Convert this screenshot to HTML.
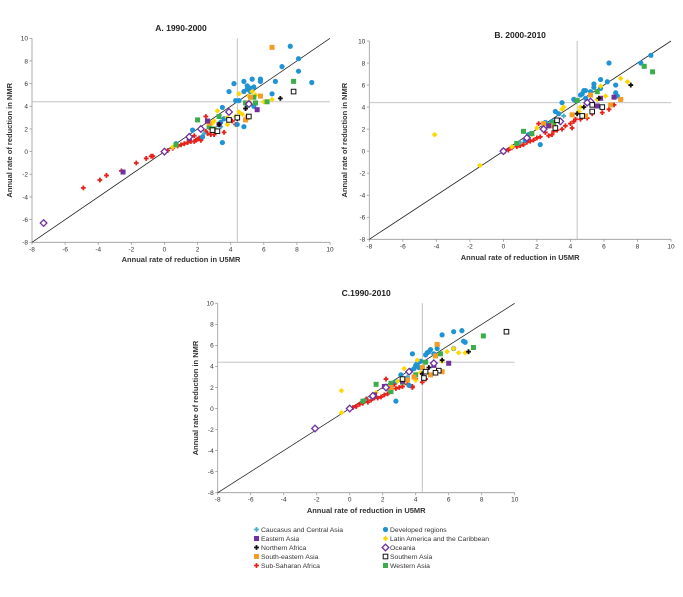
<!DOCTYPE html>
<html><head><meta charset="utf-8">
<style>
body{margin:0;background:#fff;font-family:"Liberation Sans",Arial,sans-serif}
svg{display:block}
text{font-family:"Liberation Sans",Arial,sans-serif}
</style></head>
<body>
<svg id="chart" width="683" height="597" viewBox="0 0 683 597" xmlns="http://www.w3.org/2000/svg"></svg>
<script>
const xTicks=[-8,-6,-4,-2,0,2,4,6,8,10];
const yTicks=[-8,-6,-4,-2,0,2,4,6,8,10];
const refX=4.4, refY=4.4;
const regionNames=["Caucasus and Central Asia","Developed regions","Eastern Asia","Latin America and the Caribbean","Northern Africa","Oceania","South-eastern Asia","Southern Asia","Sub-Saharan Africa","Western Asia"];
const panelTitles=["A. 1990-2000","B. 2000-2010","C.1990-2010"];

// Panel A data
const aCaucasus=[[1.5,1.4],[2.4,1.6],[3.4,2.2],[0.7,0.7]];
const aDeveloped=[[7.6,9.3],[8.1,8.2],[7.1,7.5],[8.1,7.1],[8.9,6.1],[6.7,6.2],[5.8,6.4],[5.3,6.4],[4.8,6.2],[4.2,6.0],[5.0,5.8],[5.2,5.6],[5.4,5.7],[3.9,5.3],[4.8,5.3],[5.0,5.5],[5.2,5.3],[6.5,5.1],[4.3,4.5],[4.5,4.5],[5.4,4.0],[3.5,3.9],[3.6,2.9],[4.4,2.4],[4.8,2.2],[3.5,0.8],[1.7,1.9],[0.7,0.7],[2.3,1.3],[3.4,2.6],[5.8,6.2]];
const aEastAsia=[[5.6,3.7],[2.6,2.7],[-2.5,-1.8],[1.5,1.2],[3.3,2.4]];
const aLatin=[[4.5,5.1],[5.3,5.3],[6.0,4.4],[6.5,4.6],[5.1,4.9],[3.2,3.6],[3.8,3.0],[4.7,3.3],[4.5,3.5],[2.9,2.5],[3.0,2.7],[3.8,2.4],[2.7,2.2],[0.5,0.4],[4.3,3.1],[5.5,5.0]];
const aNAfrica=[[7.0,4.7],[4.9,3.8],[4.4,2.9],[3.3,2.4]];
const aOceania=[[-7.3,-6.3],[3.9,3.5],[2.2,2.0],[0,0],[1.5,1.3],[5.1,4.2]];
const aSEAsia=[[6.5,9.2],[5.2,4.8],[5.8,4.9],[4.9,2.8],[3.9,2.8],[5.0,3.0],[2.7,2.5],[5.1,4.3]];
const aSAsia=[[7.8,5.3],[5.1,3.1],[3.9,2.8],[3.2,1.8],[2.9,1.9],[4.4,3.0]];
const aSSA=[[-4.9,-3.2],[-3.9,-2.5],[-3.5,-2.1],[-2.6,-1.7],[-1.7,-1.0],[-1.1,-0.6],[-0.8,-0.4],[-0.7,-0.4],[0,0],[0.2,0.1],[0.5,0.3],[0.8,0.5],[1.0,0.6],[1.2,0.7],[1.4,0.8],[1.6,0.9],[1.8,0.9],[1.9,1.0],[2.0,1.1],[2.1,1.2],[2.2,1.0],[2.5,3.1],[2.3,1.3],[2.6,1.6],[2.8,1.5],[3.0,1.5],[2.8,2.0],[3.6,1.7],[4.1,2.7],[4.3,2.4],[1.8,1.4],[2.5,1.8]];
const aWAsia=[[7.8,6.2],[6.2,4.4],[5.4,4.8],[4.9,4.3],[5.0,4.1],[2.0,2.8],[3.3,3.1],[2.7,2.2],[0.7,0.6],[3.0,2.0],[5.5,4.3]];

// Panel B data
const bCaucasus=[[1.5,1.2],[2.3,2.0],[3.6,3.2],[1.0,0.8]];
const bDeveloped=[[8.8,8.7],[8.2,8.0],[6.3,8.0],[5.8,6.5],[5.4,6.1],[6.2,6.3],[5.4,5.8],[4.8,5.5],[4.7,5.2],[4.6,5.1],[5.2,5.4],[6.7,6.0],[6.7,5.3],[6.8,5.0],[5.8,5.7],[3.5,4.4],[4.2,4.7],[4.3,4.6],[4.9,4.8],[3.1,3.6],[3.3,3.4],[2.5,2.6],[2.9,2.7],[1.5,1.5],[2.2,0.6],[1.3,1.0],[4.9,5.5]];
const bEastAsia=[[6.6,4.9],[5.6,4.1],[5.8,4.8],[2.7,2.3],[0,0]];
const bLatin=[[-4.1,1.5],[-1.4,-1.3],[7.0,6.6],[7.4,6.3],[6.1,5.0],[5.8,5.9],[5.6,4.7],[4.6,4.0],[3.6,4.0],[3.5,3.8],[3.3,2.8],[2.0,2.1],[0.5,0.4],[1.7,1.5],[4.5,3.6]];
const bNAfrica=[[7.6,6.0],[5.7,4.8],[4.8,4.0],[4.4,3.4]];
const bOceania=[[5.2,4.5],[5.0,4.4],[3.4,2.7],[2.4,2.0],[1.4,1.2],[0,0]];
const bSEAsia=[[5.2,5.1],[6.4,4.2],[7.0,4.7],[4.1,3.3],[2.4,2.5],[3.2,2.8],[4.9,3.2],[2.8,2.3]];
const bSAsia=[[5.9,4.0],[5.3,4.2],[5.3,3.6],[4.7,3.2],[3.2,2.8],[3.1,2.1]];
const bSSA=[[0,0],[0.3,0.1],[0.5,0.3],[0.8,0.4],[1.0,0.5],[1.2,0.6],[1.4,0.8],[1.6,0.9],[1.8,1.0],[2.0,1.2],[2.1,2.5],[2.2,1.3],[2.5,1.7],[2.7,1.4],[2.9,1.5],[3.0,1.8],[3.2,1.9],[3.5,2.0],[3.7,2.3],[4.0,2.5],[4.1,2.1],[4.3,2.9],[4.6,2.9],[5.0,3.0],[5.3,3.4],[5.9,3.5],[6.3,3.8],[6.6,4.2],[7.0,4.7],[4.2,2.7],[3.1,2.2],[2.4,2.0]];
const bWAsia=[[8.4,7.7],[8.9,7.2],[5.6,5.4],[1.2,1.8],[1.7,1.6],[2.8,2.4],[3.0,2.6],[4.4,4.6],[0.8,0.7]];

// Panel C data
const cCaucasus=[[1.3,1.1],[2.3,1.9],[3.5,3.0],[0.9,0.8]];
const cDeveloped=[[6.8,7.4],[6.3,7.3],[5.6,7.0],[6.9,6.4],[7.0,6.3],[5.3,6.0],[4.9,5.6],[4.8,5.4],[4.7,5.3],[4.6,5.1],[3.8,5.2],[5.3,5.7],[6.3,5.7],[4.3,4.5],[4.1,4.3],[4.0,4.1],[4.2,3.9],[3.9,3.8],[3.7,3.6],[3.1,3.2],[3.6,2.2],[2.8,2.6],[2.8,0.7],[5.1,5.2]];
const cEastAsia=[[6.0,4.3],[5.1,4.1],[2.1,2.1],[1.5,1.3],[3.2,2.6]];
const cLatin=[[-0.5,1.7],[-0.5,-0.4],[6.3,5.7],[6.6,5.3],[7.0,5.3],[5.9,5.4],[5.6,4.5],[4.1,4.6],[3.3,3.8],[4.3,3.4],[3.2,2.8],[4.0,2.7],[1.6,1.5],[2.9,2.6]];
const cNAfrica=[[7.2,5.4],[5.6,4.6],[4.8,3.9],[4.4,3.3]];
const cOceania=[[-2.1,-1.9],[5.1,4.3],[3.6,3.5],[2.2,2.0],[1.4,1.2],[0,0]];
const cSEAsia=[[5.3,6.1],[5.2,5.0],[5.6,3.5],[4.9,3.2],[4.4,3.9],[3.5,2.7],[2.5,2.0],[3.9,3.0]];
const cSAsia=[[9.5,7.3],[5.4,3.6],[5.2,3.4],[4.6,3.5],[4.5,2.9],[3.2,2.8]];
const cSSA=[[0,0],[0,-0.1],[0.2,0.1],[0.4,0.2],[0.6,0.4],[0.8,0.5],[1.0,0.9],[1.1,0.6],[1.3,0.8],[1.5,1.0],[1.7,1.0],[1.9,1.1],[2.1,1.3],[2.3,1.4],[2.2,2.8],[2.5,1.7],[2.8,1.9],[3.0,2.0],[3.2,2.1],[3.5,2.3],[3.8,2.0],[3.8,2.1],[4.0,2.8],[4.4,2.5],[4.6,2.8],[2.7,2.3]];
const cWAsia=[[8.1,6.9],[7.5,5.8],[5.5,5.2],[4.6,4.4],[4.4,3.9],[2.5,2.4],[1.6,2.3],[0.8,0.7],[2.5,1.6],[3.2,2.5],[4.0,3.2]];

const NS="http://www.w3.org/2000/svg";
const svg=document.getElementById('chart');
function mk(tag,attrs,parent){const e=document.createElementNS(NS,tag);for(const k in attrs)e.setAttribute(k,attrs[k]);(parent||svg).appendChild(e);return e;}
function txt(s,attrs,parent){const e=mk('text',attrs,parent);e.textContent=s;return e;}

const styles=[
 {kind:'cross',fill:'#4bacc6'},
 {kind:'circle',fill:'#1f94d4'},
 {kind:'square',fill:'#7030a0'},
 {kind:'diamond',fill:'#ffd700'},
 {kind:'cross',fill:'#111'},
 {kind:'hdiamond',fill:'#7030a0'},
 {kind:'square',fill:'#f39c26'},
 {kind:'hsquare',fill:'#111'},
 {kind:'cross',fill:'#e8201a'},
 {kind:'square',fill:'#3cae49'}
];
function marker(k,cx,cy,g){
 const s=styles[k];let e;
 if(s.kind==='circle') e=mk('circle',{cx:cx,cy:cy,r:2.6,fill:s.fill},g);
 else if(s.kind==='square') e=mk('rect',{x:cx-2.5,y:cy-2.5,width:5,height:5,fill:s.fill},g);
 else if(s.kind==='hsquare') e=mk('rect',{x:cx-2.3,y:cy-2.3,width:4.6,height:4.6,fill:'#fff',stroke:s.fill,'stroke-width':1},g);
 else if(s.kind==='diamond') e=mk('path',{d:`M${cx} ${cy-2.8}L${cx+2.8} ${cy}L${cx} ${cy+2.8}L${cx-2.8} ${cy}Z`,fill:s.fill},g);
 else if(s.kind==='hdiamond') e=mk('path',{d:`M${cx} ${cy-3.3}L${cx+3.3} ${cy}L${cx} ${cy+3.3}L${cx-3.3} ${cy}Z`,fill:'#fff',stroke:s.fill,'stroke-width':1.3},g);
 else e=mk('path',{d:`M${cx-2.4} ${cy}L${cx+2.4} ${cy}M${cx} ${cy-2.4}L${cx} ${cy+2.4}`,stroke:s.fill,'stroke-width':1.8},g);
 return e;
}

const panels=[
 {x0:32,x1:330,y0:242.3,y1:38.3,titleY:31,xlabY:262,ylabX:12,data:[aCaucasus,aDeveloped,aEastAsia,aLatin,aNAfrica,aOceania,aSEAsia,aSAsia,aSSA,aWAsia]},
 {x0:369.3,x1:671,y0:239.3,y1:41,titleY:38,xlabY:260,ylabX:347,data:[bCaucasus,bDeveloped,bEastAsia,bLatin,bNAfrica,bOceania,bSEAsia,bSAsia,bSSA,bWAsia]},
 {x0:217.7,x1:514.7,y0:492.7,y1:303.3,titleY:296,xlabY:513,ylabX:198,data:[cCaucasus,cDeveloped,cEastAsia,cLatin,cNAfrica,cOceania,cSEAsia,cSAsia,cSSA,cWAsia]}
];
const names=['panel-a','panel-b','panel-c'];
panels.forEach((p,i)=>{
 const g=mk('g',{});
 
 
 const xs=v=>p.x0+(v-xTicks[0])/(xTicks[xTicks.length-1]-xTicks[0])*(p.x1-p.x0);
 const ys=v=>p.y0-(v-yTicks[0])/(yTicks[yTicks.length-1]-yTicks[0])*(p.y0-p.y1);
 const t=txt(panelTitles[i],{x:(p.x0+p.x1)/2,y:p.titleY,'text-anchor':'middle','font-size':8.5,'font-weight':'bold',fill:'#222'},g);
 
 
 // axes
 mk('line',{x1:p.x0,y1:p.y1,x2:p.x0,y2:p.y0,stroke:'#999','stroke-width':0.8},g);
 mk('line',{x1:p.x0,y1:p.y0,x2:p.x1,y2:p.y0,stroke:'#999','stroke-width':0.8},g);
 xTicks.forEach(v=>{
  mk('line',{x1:xs(v),y1:p.y0,x2:xs(v),y2:p.y0+2.5,stroke:'#999','stroke-width':0.8},g);
  const l=txt(String(v),{x:xs(v),y:p.y0+9,'text-anchor':'middle','font-size':6.5,fill:'#333'},g);
  
  
 });
 yTicks.forEach(v=>{
  mk('line',{x1:p.x0-2.5,y1:ys(v),x2:p.x0,y2:ys(v),stroke:'#999','stroke-width':0.8},g);
  const l=txt(String(v),{x:p.x0-4,y:ys(v)+2.3,'text-anchor':'end','font-size':6.5,fill:'#333'},g);
  
  
 });
 const xl=txt('Annual rate of reduction in U5MR',{x:(p.x0+p.x1)/2,y:p.xlabY,'text-anchor':'middle','font-size':7.5,'font-weight':'bold',fill:'#333'},g);
 
 
 const cy=(p.y0+p.y1)/2;
 const yl=txt('Annual rate of reduction in NMR',{x:p.ylabX,y:cy,'text-anchor':'middle','font-size':7.5,'font-weight':'bold',fill:'#333',transform:`rotate(-90 ${p.ylabX} ${cy})`},g);
 
 
 // reference lines
 const rv=mk('line',{x1:xs(refX),y1:p.y1,x2:xs(refX),y2:p.y0,stroke:'#bbb','stroke-width':0.9},g);
 
 
 const rh=mk('line',{x1:p.x0,y1:ys(refY),x2:p.x1,y2:ys(refY),stroke:'#bbb','stroke-width':0.9},g);
 
 
 const dl=mk('line',{x1:xs(-8),y1:ys(-8),x2:xs(10),y2:ys(10),stroke:'#222','stroke-width':0.8},g);
 
 
 // points (SSA drawn first so others overlay similarly)
 const order=[8,0,1,3,9,6,2,4,5,7];
 order.forEach(k=>{
  p.data[k].forEach(pt=>{
   const m=marker(k,xs(pt[0]),ys(pt[1]),g);
   
   
  });
 });
});

// legend
const lg=mk('g',{});


regionNames.forEach((n,k)=>{
 const col=k%2,row=Math.floor(k/2);
 const mx=col===0?256.5:385.5, my=529.5+row*9;
 const eg=mk('g',{},lg);
 
 
 marker(k,mx,my,eg);
 txt(n,{x:mx+4.5,y:my+2.4,'font-size':6.8,fill:'#333'},eg);
});
</script>
</body></html>
